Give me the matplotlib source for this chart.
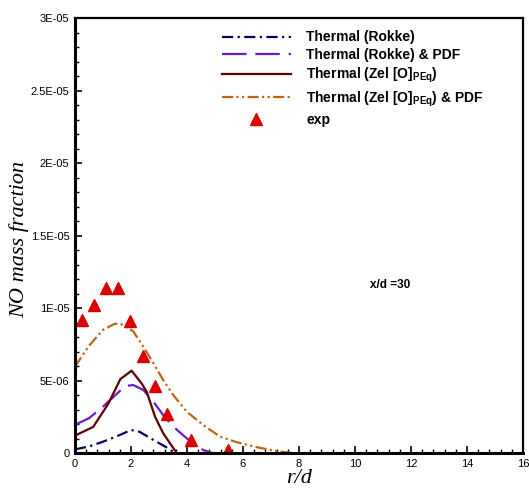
import matplotlib
matplotlib.use("Agg")
import matplotlib.pyplot as plt
from matplotlib.ticker import MultipleLocator

# Data
r_rokke = [0.0, 0.5, 1.0, 1.6, 2.0, 2.3, 2.8, 3.27, 3.57]
no_rokke = [0.25e-6, 0.45e-6, 0.78e-6, 1.24e-6, 1.59e-6, 1.47e-6, 0.9e-6, 0.39e-6, 0.0]

r_rokke_pdf = [0.0, 0.5, 1.0, 1.5, 1.79, 2.08, 2.44, 2.8, 3.15, 3.51, 3.99, 4.58, 4.9]
no_rokke_pdf = [1.95e-6, 2.4e-6, 3.2e-6, 4.1e-6, 4.62e-6, 4.69e-6, 4.35e-6, 3.54e-6, 2.62e-6, 1.82e-6, 1.01e-6, 0.2e-6, 0.0]

r_zel = [0.0, 0.65, 1.19, 1.62, 2.02, 2.38, 2.56, 2.86, 3.15, 3.63]
no_zel = [1.2e-6, 1.8e-6, 3.4e-6, 5.1e-6, 5.68e-6, 4.8e-6, 4.23e-6, 2.5e-6, 1.36e-6, 0.0]

r_zel_pdf = [0.0, 0.5, 1.0, 1.4, 1.6, 2.08, 2.44, 2.8, 3.15, 3.51, 3.99, 4.58, 5.18, 5.77, 6.5, 7.0, 7.5, 7.8]
no_zel_pdf = [5.96e-6, 7.4e-6, 8.5e-6, 8.9e-6, 8.95e-6, 8.4e-6, 7.34e-6, 6.2e-6, 5.04e-6, 4.0e-6, 2.85e-6, 1.93e-6, 1.13e-6, 0.75e-6, 0.4e-6, 0.2e-6, 0.06e-6, 0.0]

r_exp = [0.24, 0.68, 1.11, 1.52, 1.98, 2.42, 2.86, 3.27, 4.14, 5.46]
no_exp = [9.2e-6, 1.02e-5, 1.14e-5, 1.14e-5, 9.1e-6, 6.7e-6, 4.6e-6, 2.7e-6, 0.9e-6, 0.2e-6]

x_ticks = [0, 2, 4, 6, 8, 10, 12, 14, 16]
y_ticks = [0, 5e-6, 1e-5, 1.5e-5, 2e-5, 2.5e-5, 3e-5]
y_tick_labels = ["0", "5E-06", "1E-05", "1.5E-05", "2E-05", "2.5E-05", "3E-05"]

plt.rcParams['font.family'] = ['Liberation Sans', 'DejaVu Sans']

fig = plt.figure(figsize=(5.29, 4.93), dpi=100)
ax = fig.add_axes([75/529, 40/493, 448/529, 434.7/493])

lw = 1.6
ax.plot(r_rokke, no_rokke, color='#000060', lw=lw, linestyle=(0, (5, 2, 1, 2)), label='Thermal (Rokke)')
ax.plot(r_rokke_pdf, no_rokke_pdf, color='#6a1cc8', lw=lw, linestyle=(0, (11, 4)), label='Thermal (Rokke) & PDF')
ax.plot(r_zel, no_zel, color='#5c0000', lw=lw, linestyle='-', label=r'Thermal (Zel [O]$_{\mathregular{PEq}}$)')
ax.plot(r_zel_pdf, no_zel_pdf, color='#c0640f', lw=lw, linestyle=(0, (5, 1.5, 1, 1.5, 1, 1.5)),
        label=r'Thermal (Zel [O]$_{\mathregular{PEq}}$) & PDF')
ax.plot(r_exp, no_exp, linestyle='none', marker='^', markersize=9, color='#dd0000',
        markeredgecolor='#dd0000', label='exp')

ax.set_xlim(0, 16)
ax.set_ylim(0, 3e-5)
ax.set_xticks(x_ticks)
ax.set_yticks(y_ticks)
ax.set_yticklabels(y_tick_labels)
ax.xaxis.set_minor_locator(MultipleLocator(0.4))
ax.yaxis.set_minor_locator(MultipleLocator(1e-6))
ax.tick_params(which='both', direction='in', top=False, right=False, labelsize=8)
ax.tick_params(which='major', length=5, width=1.2)
ax.tick_params(which='minor', length=3, width=1.0)
ax.tick_params(axis='x', pad=4)
ax.tick_params(axis='y', pad=4)

for side in ['left', 'bottom']:
    ax.spines[side].set_linewidth(2.2)
for side in ['top', 'right']:
    ax.spines[side].set_linewidth(1.6)

ax.set_xlabel('r/d', fontfamily='Liberation Serif', fontstyle='italic', fontsize=16, labelpad=0)
ax.set_ylabel('NO mass fraction', fontfamily='Liberation Serif', fontstyle='italic', fontsize=16, labelpad=1)
ax.yaxis.set_label_coords(-0.103, 0.49)

ax.text(11.25, 1.16e-5, 'x/d =30', fontsize=8.5, fontweight='bold', ha='center', va='center')

leg = ax.legend(loc='upper left', bbox_to_anchor=(0.315, 0.985), frameon=False,
                prop={'weight': 'bold', 'size': 10}, handlelength=5.0, handletextpad=1.1,
                labelspacing=0.28, borderaxespad=0.0)

fig.savefig('out.png', dpi=100)
